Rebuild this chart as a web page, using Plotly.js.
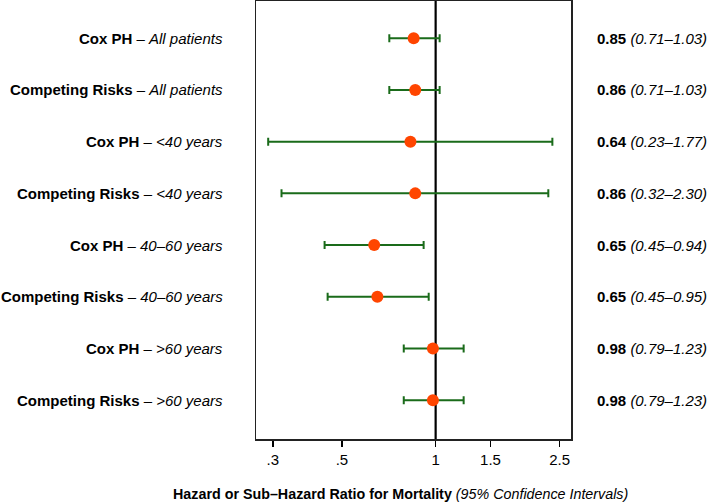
<!DOCTYPE html>
<html>
<head>
<meta charset="utf-8">
<script src="https://cdn.plot.ly/plotly-3.0.1.min.js"></script>
<style>html,body{margin:0;padding:0;background:#fff;}#chart{width:708px;height:503px;}</style>
</head>
<body>
<div id="chart"></div>
<script>
// Data
const rows = [1, 2, 3, 4, 5, 6, 7, 8];
const models = ['Cox PH', 'Competing Risks', 'Cox PH', 'Competing Risks', 'Cox PH', 'Competing Risks', 'Cox PH', 'Competing Risks'];
const groups = ['All patients', 'All patients', '&lt;40 years', '&lt;40 years', '40–60 years', '40–60 years', '&gt;60 years', '&gt;60 years'];
const estimates = [0.85, 0.86, 0.83, 0.86, 0.635, 0.65, 0.98, 0.98];
const lower = [0.71, 0.71, 0.29, 0.32, 0.44, 0.45, 0.79, 0.79];
const upper = [1.03, 1.03, 2.37, 2.30, 0.915, 0.95, 1.23, 1.23];
const estLabels = ['0.85', '0.86', '0.64', '0.86', '0.65', '0.65', '0.98', '0.98'];
const ciLabels = ['(0.71–1.03)', '(0.71–1.03)', '(0.23–1.77)', '(0.32–2.30)', '(0.45–0.94)', '(0.45–0.95)', '(0.79–1.23)', '(0.79–1.23)'];
const tickVals = [0.3, 0.5, 1, 1.5, 2.5];
const tickText = ['.3', '.5', '1', '1.5', '2.5'];
const refValue = 1;

const FONT = 'Liberation Sans, Arial, Helvetica, sans-serif';

const trace = {
  type: 'scatter',
  mode: 'markers',
  x: estimates,
  y: rows,
  marker: {color: '#FF4500', size: 12},
  error_x: {
    type: 'data',
    symmetric: false,
    array: upper.map((u, i) => u - estimates[i]),
    arrayminus: lower.map((l, i) => estimates[i] - l),
    color: '#1A6B1A',
    thickness: 2,
    width: 4
  },
  hoverinfo: 'none',
  showlegend: false
};

const annotations = [];
rows.forEach((r, i) => {
  annotations.push({
    xref: 'paper', yref: 'y', x: 0, y: r, xanchor: 'right', yanchor: 'middle',
    xshift: -31, showarrow: false,
    text: '<b>' + models[i] + '</b> – <i>' + groups[i] + '</i>',
    font: {family: FONT, size: 15, color: '#000'}
  });
  annotations.push({
    xref: 'paper', yref: 'y', x: 1, y: r, xanchor: 'left', yanchor: 'middle',
    xshift: 24, showarrow: false,
    text: '<b>' + estLabels[i] + '</b> <i>' + ciLabels[i] + '</i>',
    font: {family: FONT, size: 15, color: '#000'}
  });
});
annotations.push({
  xref: 'paper', yref: 'paper', x: 0.46, y: 0, yanchor: 'middle', xanchor: 'center',
  yshift: -55, showarrow: false,
  text: '<b>Hazard or Sub–Hazard Ratio for Mortality</b> <i>(95% Confidence Intervals)</i>',
  font: {family: FONT, size: 14.3, color: '#000'}
});

const layout = {
  width: 708, height: 503,
  margin: {l: 256, r: 137, t: 1, b: 64},
  paper_bgcolor: '#fff', plot_bgcolor: '#fff',
  font: {family: FONT, size: 15, color: '#000'},
  xaxis: {
    type: 'log',
    range: [Math.log10(0.265), Math.log10(2.72)],
    tickvals: tickVals, ticktext: tickText,
    ticks: 'outside', ticklen: 6, tickwidth: 1.5, tickcolor: '#000',
    showgrid: false, zeroline: false,
    showline: true, linecolor: '#222', linewidth: 1.5, mirror: true,
    tickfont: {family: FONT, size: 15, color: '#000'}
  },
  yaxis: {
    range: [8.75, 0.28],
    showticklabels: false, ticks: '',
    showgrid: false, zeroline: false,
    showline: true, linecolor: '#222', linewidth: 1.5, mirror: true
  },
  shapes: [{
    type: 'line', xref: 'x', yref: 'paper', x0: refValue, x1: refValue, y0: 0, y1: 1,
    line: {color: '#000', width: 2.2}, layer: 'below'
  }],
  annotations: annotations
};

Plotly.newPlot('chart', [trace], layout, {displayModeBar: false, staticPlot: true});
</script>
</body>
</html>
